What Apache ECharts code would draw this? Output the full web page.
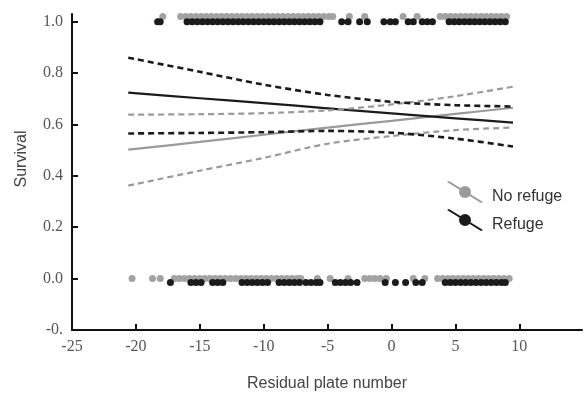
<!DOCTYPE html>
<html>
<head>
<meta charset="utf-8">
<script src="https://cdn.jsdelivr.net/npm/echarts@6/dist/echarts.min.js"></script>
<style>html,body{margin:0;padding:0;background:#fff}#c{width:585px;height:394px}</style>
</head>
<body>
<div id="c"></div>
<script>
// ---- data ----
var xTicks = [-25, -20, -15, -10, -5, 0, 5, 10];
var yTicks = [-0.2, 0, 0.2, 0.4, 0.6, 0.8, 1.0];
var fitX = [-20.6, -15, -10, -5, 0, 5, 9.5];
var noRefugeFit   = [0.502, 0.532, 0.560, 0.588, 0.614, 0.641, 0.665];
var noRefugeUpper = [0.638, 0.640, 0.644, 0.655, 0.678, 0.710, 0.747];
var noRefugeLower = [0.362, 0.420, 0.470, 0.525, 0.555, 0.578, 0.588];
var refugeFit     = [0.724, 0.702, 0.683, 0.663, 0.643, 0.624, 0.607];
var refugeUpper   = [0.860, 0.805, 0.755, 0.715, 0.688, 0.675, 0.670];
var refugeLower   = [0.565, 0.567, 0.570, 0.575, 0.568, 0.545, 0.514];
// observed outcomes (survived = 1, died = 0), x = residual plate number
var noRefugeSurvived = [-17.9, -16.5, -16.1, -15.7, -15.3, -14.9, -14.5, -14.1, -13.7, -13.3, -12.9, -12.5, -12.1, -11.7, -11.3, -10.9, -10.5, -10.1, -9.7, -9.3, -8.9, -8.5, -8.1, -7.7, -7.3, -6.9, -6.5, -6.1, -5.7, -5.3, -4.9, -4.6, -3.3, -2.1, 0.9, 2.0, 3.8, 4.2, 4.6, 5.0, 5.4, 5.8, 6.2, 6.6, 7.0, 7.4, 7.8, 8.2, 8.6, 9.0];
var refugeSurvived = [-18.3, -18.1, -16.0, -15.6, -15.2, -14.8, -14.4, -14.0, -13.6, -13.2, -12.8, -12.4, -12.0, -11.6, -11.2, -10.8, -10.4, -10.0, -9.6, -9.2, -8.8, -8.4, -8.0, -7.6, -7.2, -6.8, -6.4, -6.0, -5.6, -3.9, -3.4, -2.5, -1.9, -0.6, -0.1, 0.3, 1.3, 1.7, 2.4, 2.8, 3.2, 4.5, 4.9, 5.3, 5.7, 6.1, 6.5, 6.9, 7.3, 7.7, 8.1, 8.5, 8.9];
var noRefugeDied = [-20.3, -18.7, -18.1, -17.0, -16.6, -16.2, -15.8, -15.4, -15.0, -14.6, -14.2, -13.8, -13.4, -13.0, -12.6, -12.2, -11.8, -11.4, -11.0, -10.6, -10.2, -9.8, -9.4, -9.0, -8.6, -8.2, -7.8, -7.4, -7.1, -5.8, -4.8, -3.4, -2.1, -1.7, -1.3, -0.9, -0.4, 1.7, 2.6, 3.6, 4.0, 4.4, 4.8, 5.2, 5.6, 6.0, 6.4, 6.8, 7.2, 7.6, 8.0, 8.4, 8.8, 9.2];
var refugeDied = [-17.3, -15.7, -15.3, -14.9, -14.0, -13.6, -13.2, -11.7, -11.3, -10.9, -10.5, -10.1, -9.7, -8.8, -8.4, -8.0, -7.6, -7.2, -6.7, -6.3, -5.9, -5.6, -4.4, -4.0, -3.6, -3.2, -2.7, -0.5, 0.3, 1.1, 1.9, 2.4, 4.2, 4.6, 5.0, 5.4, 5.8, 6.2, 6.6, 7.0, 7.4, 7.8, 8.2, 8.6, 8.9];
// small vertical offsets so the two groups don't hide each other (as in the original)
var noRefugeOffset = {survived: 1.02, died: 0.0};
var refugeOffset = {survived: 1.0, died: -0.015};

var GREY = '#a2a2a2', BLACK = '#1c1a1b', LGREY = '#9a9a9a';
function pairs(xs, ys) { return xs.map(function (x, i) { return [x, ys[i]]; }); }
function pts(xs, y) { return xs.map(function (x) { return [x, y]; }); }
function lineS(name, data, color, width, dashed) {
  return {
    type: 'line', name: name, data: data, symbol: 'none', smooth: 0.3,
    lineStyle: {color: color, width: width, type: dashed ? [6, 4] : 'solid'},
    itemStyle: {color: color}, z: 3, silent: true
  };
}
function dotS(name, data, color) {
  return {type: 'scatter', name: name, data: data, symbolSize: 7, clip: false,
    itemStyle: {color: color, opacity: 1}, z: 2, silent: true};
}
// legend glyph: diagonal line through a dot; trailing move-to leaves room below so the label sits lower
var icon = 'path://M0,1L2,0L36,21L34,22Z M24,11A6,6 0 1,1 12,11A6,6 0 1,1 24,11Z M0,32';

var chart = echarts.init(document.getElementById('c'));
chart.setOption({
  animation: false,
  backgroundColor: '#fff',
  grid: {left: 72, right: 3, top: 14, bottom: 64, containLabel: false, outerBoundsMode: 'none'},
  legend: {
    left: 442, top: 176, orient: 'vertical', itemWidth: 36, itemHeight: 32, itemGap: -4,
    icon: icon, data: ['No refuge', 'Refuge'],
    textStyle: {fontFamily: 'Liberation Sans', fontSize: 16, color: '#333', padding: [0, 0, 0, 4]}
  },
  xAxis: {
    type: 'value', min: -25, max: 14.9, interval: 5,
    name: 'Residual plate number', nameLocation: 'middle', nameGap: 46,
    nameTextStyle: {fontFamily: 'Liberation Sans', fontSize: 16, color: '#444'},
    axisLine: {onZero: false, lineStyle: {color: '#111', width: 2}},
    axisTick: {show: true, inside: true, length: 6, lineStyle: {color: '#111', width: 2}, customValues: xTicks},
    axisLabel: {customValues: xTicks, margin: 9, fontFamily: 'Liberation Serif', fontSize: 16, color: '#555'},
    splitLine: {show: false}
  },
  yAxis: {
    type: 'value', min: -0.2, max: 1.03, interval: 0.2,
    name: 'Survival', nameLocation: 'middle', nameGap: 42,
    nameTextStyle: {fontFamily: 'Liberation Sans', fontSize: 16, color: '#444', padding: [0, 0, 0, 26]},
    axisLine: {show: true, onZero: false, lineStyle: {color: '#111', width: 2}},
    axisTick: {show: true, inside: true, length: 6, lineStyle: {color: '#111', width: 2}, customValues: yTicks},
    axisLabel: {customValues: yTicks, margin: 9, fontFamily: 'Liberation Serif', fontSize: 16, color: '#555',
      formatter: function (v) { return v < -0.1 ? '-0.' : v.toFixed(1); }},
    splitLine: {show: false}
  },
  series: [
    lineS('No refuge', pairs(fitX, noRefugeFit), LGREY, 2.2, false),
    lineS('Refuge', pairs(fitX, refugeFit), BLACK, 2.2, false),
    lineS('No refuge', pairs(fitX, noRefugeUpper), LGREY, 2.2, true),
    lineS('No refuge', pairs(fitX, noRefugeLower), LGREY, 2.2, true),
    lineS('Refuge', pairs(fitX, refugeUpper), BLACK, 2.6, true),
    lineS('Refuge', pairs(fitX, refugeLower), BLACK, 2.6, true),
    dotS('No refuge', pts(noRefugeSurvived, noRefugeOffset.survived), GREY),
    dotS('No refuge', pts(noRefugeDied, noRefugeOffset.died), GREY),
    dotS('Refuge', pts(refugeSurvived, refugeOffset.survived), BLACK),
    dotS('Refuge', pts(refugeDied, refugeOffset.died), BLACK)
  ]
});
</script>
</body>
</html>
